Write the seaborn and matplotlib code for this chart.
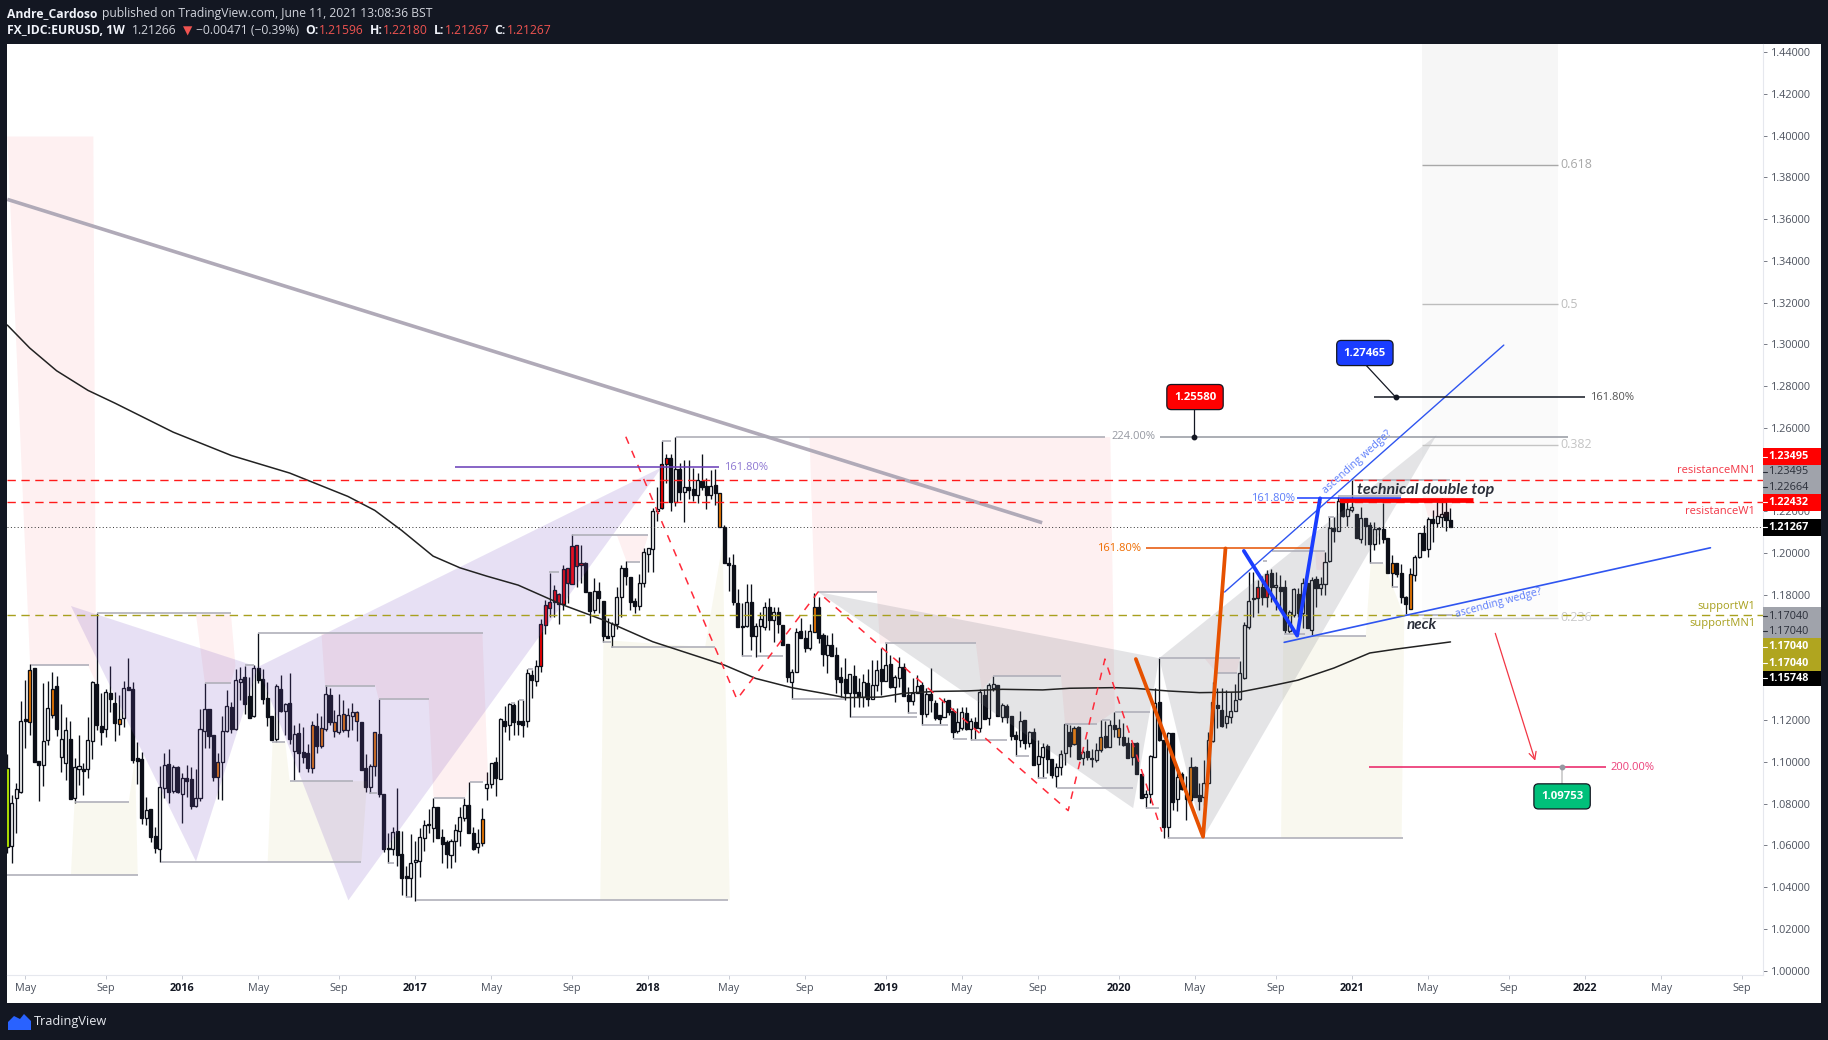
import matplotlib
matplotlib.use("Agg")
import matplotlib.pyplot as plt
import matplotlib.patches as mp
from matplotlib.transforms import blended_transform_factory
import numpy as np
import seaborn as sns

# ---------- candle data (weekly EURUSD) ----------
HIGH = [
1.1038,1.0841,1.0897,1.1292,1.1392,1.1469,1.1448,1.1004,1.1376,1.1386,
1.1432,1.1412,1.1276,1.1214,1.1196,1.1019,1.1129,1.0996,1.1214,1.1389,
1.1713,1.1329,1.1349,1.1459,1.1336,1.1321,1.1386,1.1496,1.1384,1.1094,
1.1049,1.0830,1.0774,1.0687,1.0980,1.1041,1.1062,1.0985,1.0980,1.0945,
1.0984,1.0974,1.0966,1.1252,1.1376,1.1252,1.1129,1.1044,1.1220,1.1344,
1.1289,1.1443,1.1453,1.1459,1.1408,1.1464,1.1616,1.1443,1.1384,1.1220,
1.1373,1.1416,1.1281,1.1424,1.1177,1.1185,1.1166,1.1086,1.1196,1.1233,
1.1220,1.1369,1.1353,1.1249,1.1326,1.1297,1.1257,1.1281,1.1246,1.1191,
1.1038,1.0990,1.1142,1.1300,1.0846,1.0658,1.0690,1.0874,1.0669,1.0502,
1.0655,1.0623,1.0682,1.0722,1.0775,1.0829,1.0784,1.0679,1.0626,1.0629,
1.0703,1.0786,1.0829,1.0906,1.0687,1.0679,1.0778,1.0950,1.0997,1.1025,
1.1209,1.1268,1.1284,1.1284,1.1297,1.1297,1.1445,1.1440,1.1488,1.1685,
1.1776,1.1907,1.1847,1.1808,1.1943,1.1929,1.2090,1.2037,1.2039,1.1959,
1.1812,1.1879,1.1860,1.1769,1.1688,1.1672,1.1839,1.1943,1.1962,1.1887,
1.1784,1.1899,1.2026,1.2023,1.2215,1.2319,1.2537,1.2475,1.2475,1.2555,
1.2430,1.2446,1.2446,1.2406,1.2386,1.2475,1.2358,1.2398,1.2402,1.2287,
1.2135,1.1983,1.1996,1.1827,1.1763,1.1852,1.1852,1.1667,1.1720,1.1768,
1.1784,1.1744,1.1744,1.1656,1.1563,1.1443,1.1640,1.1688,1.1632,1.1659,
1.1808,1.1792,1.1616,1.1608,1.1620,1.1552,1.1457,1.1497,1.1420,1.1465,
1.1401,1.1422,1.1445,1.1489,1.1489,1.1544,1.1568,1.1513,1.1417,1.1505,
1.1473,1.1361,1.1401,1.1417,1.1385,1.1353,1.1449,1.1297,1.1225,1.1305,
1.1297,1.1257,1.1257,1.1262,1.1262,1.1209,1.1217,1.1348,1.1348,1.1377,
1.1412,1.1369,1.1281,1.1278,1.1219,1.1150,1.1246,1.1201,1.1150,1.1161,
1.1105,1.1089,1.1085,1.1014,1.0994,1.1057,1.1180,1.1177,1.1174,1.1174,
1.1057,1.1109,1.1061,1.1089,1.1201,1.1196,1.1201,1.1237,1.1206,1.1185,
1.1118,1.1092,1.1097,1.0940,1.0865,1.1033,1.1352,1.1496,1.1105,1.1145,
1.1140,1.0953,1.0953,1.0933,1.1022,1.0980,1.0897,1.1009,1.1145,1.1381,
1.1352,1.1352,1.1344,1.1336,1.1373,1.1485,1.1670,1.1912,1.1912,1.1872,
1.1891,1.1920,1.1923,1.1912,1.1896,1.1872,1.1728,1.1832,1.1832,1.1880,
1.1856,1.1888,1.1891,1.1888,1.2008,1.2172,1.2172,1.2271,1.2263,1.2263,
1.2351,1.2187,1.2223,1.2167,1.2151,1.2151,1.2124,1.2239,1.2073,1.1992,
1.1952,1.1949,1.1795,1.1928,1.1992,1.2099,1.2136,1.2172,1.2207,1.2258,
1.2263,1.2258,1.2215]
BODY_TOP = [
1.0969,1.0802,1.0869,1.1196,1.1206,1.1440,1.1448,1.1004,1.1102,1.1257,
1.1348,1.1364,1.1111,1.1153,1.1110,1.0977,1.0979,1.0966,1.1105,1.1381,
1.1373,1.1172,1.1336,1.1330,1.1282,1.1204,1.1352,1.1359,1.1349,1.1019,
1.1014,1.0768,1.0774,1.0644,1.0878,1.0984,1.0988,1.0976,1.0976,1.0921,
1.0923,1.0917,1.0826,1.1156,1.1252,1.1252,1.1129,1.1001,1.1148,1.1268,
1.1263,1.1391,1.1396,1.1407,1.1316,1.1450,1.1450,1.1397,1.1305,1.1220,
1.1362,1.1349,1.1276,1.1281,1.1132,1.1137,1.1046,1.1041,1.1175,1.1172,
1.1161,1.1326,1.1321,1.1190,1.1223,1.1228,1.1223,1.1238,1.1238,1.1191,
1.0971,1.0981,1.1142,1.1134,1.0846,1.0588,1.0664,1.0669,1.0559,1.0452,
1.0514,1.0529,1.0639,1.0696,1.0703,1.0784,1.0784,1.0639,1.0615,1.0621,
1.0672,1.0735,1.0792,1.0794,1.0658,1.0610,1.0725,1.0893,1.0993,1.0998,
1.1206,1.1196,1.1276,1.1273,1.1196,1.1196,1.1425,1.1417,1.1460,1.1659,
1.1750,1.1768,1.1822,1.1803,1.1923,1.1929,1.2034,1.2037,1.1951,1.1951,
1.1812,1.1817,1.1817,1.1769,1.1603,1.1659,1.1788,1.1927,1.1927,1.1884,
1.1769,1.1859,1.2004,1.2023,1.2202,1.2213,1.2426,1.2454,1.2454,1.2402,
1.2402,1.2315,1.2315,1.2306,1.2350,1.2346,1.2322,1.2323,1.2328,1.2287,
1.2124,1.1951,1.1943,1.1761,1.1653,1.1764,1.1764,1.1653,1.1683,1.1744,
1.1744,1.1717,1.1720,1.1656,1.1563,1.1432,1.1621,1.1629,1.1592,1.1627,
1.1744,1.1744,1.1608,1.1560,1.1560,1.1513,1.1407,1.1398,1.1420,1.1412,
1.1335,1.1382,1.1378,1.1369,1.1441,1.1445,1.1465,1.1469,1.1406,1.1453,
1.1453,1.1321,1.1332,1.1364,1.1367,1.1324,1.1326,1.1281,1.1225,1.1294,
1.1297,1.1244,1.1193,1.1238,1.1233,1.1198,1.1192,1.1334,1.1321,1.1369,
1.1374,1.1369,1.1271,1.1268,1.1219,1.1129,1.1196,1.1201,1.1144,1.1144,
1.1029,1.1072,1.1077,1.1014,1.0974,1.1038,1.1180,1.1142,1.1161,1.1168,
1.1048,1.1051,1.1019,1.1056,1.1120,1.1124,1.1177,1.1177,1.1161,1.1118,
1.1091,1.1092,1.1091,1.0940,1.0845,1.1027,1.1281,1.1285,1.1105,1.1137,
1.1137,1.0926,1.0940,1.0846,1.0977,1.0977,1.0840,1.0901,1.1105,1.1285,
1.1273,1.1249,1.1220,1.1245,1.1297,1.1424,1.1656,1.1771,1.1784,1.1840,
1.1840,1.1899,1.1904,1.1848,1.1840,1.1840,1.1716,1.1829,1.1805,1.1856,
1.1856,1.1872,1.1875,1.1851,1.1960,1.2123,1.2120,1.2252,1.2252,1.2211,
1.2220,1.2187,1.2167,1.2167,1.2136,1.2115,1.2121,1.2116,1.2073,1.1952,
1.1952,1.1904,1.1791,1.1899,1.1981,1.2097,1.2099,1.2164,1.2163,1.2179,
1.2187,1.2195,1.2159]
BODY_BOTTOM = [
1.0594,1.0599,1.0829,1.0857,1.1196,1.1193,1.1001,1.0985,1.0987,1.1107,
1.1226,1.1159,1.1025,1.0996,1.0824,1.0829,1.0968,1.0958,1.0964,1.1102,
1.1177,1.1145,1.1156,1.1301,1.1188,1.1183,1.1212,1.1344,1.1009,1.1006,
1.0733,1.0733,1.0642,1.0589,1.0584,1.0877,1.0857,1.0862,1.0854,1.0848,
1.0910,1.0790,1.0790,1.0829,1.1150,1.1126,1.0929,1.0929,1.1001,1.1150,
1.1159,1.1159,1.1384,1.1277,1.1212,1.1220,1.1392,1.1301,1.1217,1.1107,
1.1110,1.1245,1.1244,1.1111,1.1054,1.1044,1.1025,1.0973,1.0969,1.1078,
1.1078,1.1159,1.1193,1.1150,1.1145,1.1155,1.1155,1.1222,1.1198,1.0963,
1.0880,1.0878,1.0982,1.0848,1.0585,1.0583,1.0585,1.0556,1.0446,1.0446,
1.0446,1.0519,1.0527,1.0637,1.0696,1.0685,1.0637,1.0609,1.0559,1.0556,
1.0620,1.0671,1.0733,1.0661,1.0583,1.0594,1.0610,1.0877,1.0896,1.0925,
1.0920,1.1172,1.1179,1.1193,1.1182,1.1177,1.1198,1.1393,1.1389,1.1461,
1.1654,1.1736,1.1764,1.1758,1.1755,1.1855,1.1854,1.1940,1.1942,1.1812,
1.1723,1.1728,1.1784,1.1603,1.1594,1.1603,1.1659,1.1788,1.1892,1.1768,
1.1748,1.1748,1.1859,1.1996,1.2022,1.2200,1.2215,1.2426,1.2245,1.2247,
1.2291,1.2291,1.2303,1.2280,1.2280,1.2319,1.2279,1.2277,1.2287,1.2124,
1.1954,1.1942,1.1768,1.1648,1.1645,1.1653,1.1605,1.1603,1.1653,1.1648,
1.1680,1.1680,1.1659,1.1560,1.1408,1.1384,1.1432,1.1595,1.1547,1.1547,
1.1621,1.1592,1.1517,1.1513,1.1509,1.1398,1.1383,1.1331,1.1332,1.1329,
1.1310,1.1311,1.1303,1.1302,1.1370,1.1390,1.1390,1.1361,1.1361,1.1404,
1.1318,1.1292,1.1294,1.1332,1.1230,1.1230,1.1297,1.1211,1.1208,1.1217,
1.1241,1.1145,1.1148,1.1164,1.1156,1.1160,1.1164,1.1164,1.1206,1.1209,
1.1356,1.1222,1.1217,1.1217,1.1126,1.1109,1.1105,1.1089,1.1093,1.0986,
1.0989,1.1022,1.1014,1.0938,1.0934,1.0978,1.1041,1.1078,1.1085,1.1016,
1.1019,1.1022,1.1016,1.1010,1.1057,1.1073,1.1073,1.1159,1.1118,1.1083,
1.1020,1.1022,1.0940,1.0829,1.0830,1.0845,1.1022,1.1105,1.0690,1.0687,
1.0810,1.0821,1.0872,1.0821,1.0818,1.0833,1.0814,1.0833,1.0897,1.1102,
1.1257,1.1172,1.1188,1.1217,1.1242,1.1300,1.1400,1.1648,1.1779,1.1784,
1.1792,1.1792,1.1837,1.1837,1.1821,1.1633,1.1629,1.1704,1.1712,1.1712,
1.1641,1.1633,1.1832,1.1832,1.1854,1.1963,1.2108,1.2108,1.2180,1.2180,
1.2209,1.2072,1.2070,1.2131,1.2045,1.2045,1.2115,1.2070,1.1904,1.1907,
1.1901,1.1792,1.1757,1.1733,1.1896,1.1981,1.2016,1.2019,1.2147,1.2147,
1.2175,1.2159,1.2127]
LOW = [
1.0562,1.0517,1.0658,1.0849,1.1065,1.1129,1.1001,1.0814,1.0886,1.1081,
1.1209,1.1124,1.0953,1.0913,1.0824,1.0805,1.0889,1.0841,1.0925,1.1014,
1.1153,1.1081,1.1121,1.1241,1.1102,1.1129,1.1169,1.1344,1.0993,1.0894,
1.0703,1.0698,1.0615,1.0565,1.0522,1.0826,1.0802,1.0849,1.0849,1.0709,
1.0833,1.0774,1.0786,1.0813,1.1065,1.1065,1.0910,1.0822,1.0818,1.1145,
1.1137,1.1153,1.1297,1.1230,1.1212,1.1217,1.1380,1.1277,1.1172,1.1107,
1.1097,1.1241,1.1129,1.1086,1.0913,1.0953,1.0993,1.0953,1.0949,1.1044,
1.1068,1.1150,1.1177,1.1121,1.1134,1.1145,1.1121,1.1153,1.1102,1.0963,
1.0858,1.0850,1.0934,1.0830,1.0567,1.0514,1.0553,1.0503,1.0363,1.0351,
1.0355,1.0335,1.0450,1.0575,1.0658,1.0618,1.0637,1.0518,1.0490,1.0494,
1.0522,1.0597,1.0717,1.0661,1.0578,1.0565,1.0597,1.0818,1.0874,1.0838,
1.0920,1.1145,1.1105,1.1129,1.1129,1.1118,1.1169,1.1308,1.1365,1.1432,
1.1613,1.1696,1.1696,1.1659,1.1728,1.1760,1.1852,1.1839,1.1859,1.1812,
1.1667,1.1715,1.1712,1.1576,1.1592,1.1552,1.1635,1.1696,1.1847,1.1728,
1.1715,1.1728,1.1839,1.1911,1.1911,1.2156,1.2212,1.2335,1.2204,1.2226,
1.2255,1.2151,1.2258,1.2251,1.2239,1.2303,1.2212,1.2259,1.2231,1.2124,
1.1951,1.1820,1.1752,1.1645,1.1507,1.1648,1.1536,1.1504,1.1528,1.1632,
1.1632,1.1576,1.1616,1.1560,1.1384,1.1300,1.1432,1.1592,1.1528,1.1536,
1.1621,1.1568,1.1461,1.1428,1.1509,1.1329,1.1313,1.1297,1.1214,1.1265,
1.1265,1.1265,1.1268,1.1302,1.1342,1.1321,1.1390,1.1353,1.1289,1.1361,
1.1318,1.1233,1.1273,1.1329,1.1177,1.1214,1.1241,1.1201,1.1182,1.1217,
1.1225,1.1113,1.1137,1.1153,1.1153,1.1105,1.1109,1.1145,1.1206,1.1177,
1.1342,1.1222,1.1193,1.1188,1.1105,1.1029,1.1073,1.1061,1.1073,1.0986,
1.0925,1.0925,1.0946,1.0922,1.0879,1.0938,1.0986,1.1025,1.1081,1.1016,
1.0986,1.1010,1.0978,1.1002,1.1049,1.1068,1.1070,1.1121,1.1081,1.1076,
1.1017,1.0985,1.0940,1.0829,1.0778,1.0802,1.1022,1.1102,1.0634,1.0634,
1.0770,1.0766,1.0865,1.0722,1.0802,1.0833,1.0770,1.0794,1.0897,1.1097,
1.1161,1.1166,1.1161,1.1185,1.1242,1.1297,1.1395,1.1636,1.1696,1.1712,
1.1752,1.1744,1.1768,1.1728,1.1744,1.1617,1.1617,1.1696,1.1696,1.1641,
1.1641,1.1601,1.1744,1.1800,1.1800,1.1960,1.2056,1.2108,1.2175,1.2128,
1.2199,1.2072,1.2051,1.2040,1.1952,1.2016,1.2045,1.2048,1.1904,1.1837,
1.1888,1.1760,1.1709,1.1732,1.1867,1.1976,1.2016,1.1984,1.2056,1.2124,
1.2124,1.2104,1.2127]
BODY_KIND = ("gwwwkokkww" "okwwkwwkww" "kkwkkowkkk" "kwkkwwkwkw" "kkwwwkkoww"
             "kwwkkwkkkk" "wkwkwkkkok" "owkowowwok" "kwokkkwkkk" "wwwwkwkkkw"
             "wwwkkwowwk" "wkwkkkwkwr" "rrrrrrrrrk" "kwkkkwwwkk" "kwwwwwrrkw"
             "kwkkwkkwko" "kkkkkwkwww" "kwkkkwwkkw" "okkwkkkkwk" "kwkwwkwkww"
             "kkwwkwkkkw" "kkwwkwkwkw" "wkwkkkwkwk" "wwkkwwwkok" "wkkwokwkok"
             "kokkwwwkkw" "kwkkokkwww" "kkwwwwwwkr" "krkwkkwwkw" "kwkwwwkwkw"
             "wkwkkwkkko" "kkkowwkwkw" "wkk")

MA_WEEK = [0,5,11,18,24,37,50,63,76,82,88,95,101,107,114,124,133,144,160,167,175,182,187,195,200,207,
           214,222,231,237,247,252,259,266,275,281,288,296,304,310,322]
MA_VALUE = [1.3093,1.2983,1.2874,1.2780,1.2719,1.2580,1.2468,1.2384,1.2272,1.2205,1.2109,1.1986,1.1930,
            1.1890,1.1847,1.1752,1.1680,1.1576,1.1464,1.1400,1.1356,1.1329,1.1308,1.1311,1.1329,1.1338,
            1.1340,1.1348,1.1345,1.1353,1.1356,1.1352,1.1340,1.1332,1.1335,1.1360,1.1392,1.1450,1.1522,
            1.1541,1.1575]

TICK_WEEK = [4,22,39,56,74,91,108,126,143,161,178,196,213,230,248,265,283,300,317,335,352,369,387]
TICK_LABEL = ["May","Sep","2016","May","Sep","2017","May","Sep","2018","May","Sep","2019","May",
              "Sep","2020","May","Sep","2021","May","Sep","2022","May","Sep"]
PRICE_TICKS = [1.00,1.02,1.04,1.06,1.08,1.10,1.12,1.18,1.20,1.22,1.26,1.28,1.30,
               1.32,1.34,1.36,1.38,1.40,1.42,1.44]

# ---------- drawings, in (week, price) ----------
PINK_ZONES = [
 [(0,1.3996),(19.2,1.3996),(19.8,1.1380),(18,1.1464),(5.1,1.1464)],
 [(42.1,1.1707),(49.9,1.1707),(50.9,1.1461),(49.9,1.1377),(44.1,1.1377)],
 [(70.1,1.1616),(106.0,1.1616),(107.3,1.0908),(103.2,1.0908),(102.2,1.0830),(95.1,1.0830),
  (94.0,1.1299),(82.9,1.1299),(82.1,1.1366),(70.9,1.1366)],
 [(179,1.2556),(246.1,1.2556),(247.1,1.1243),(243,1.1182),(236,1.1182),(235.1,1.1411),(220,1.1411),
  (217.4,1.1344),(216.1,1.1567),(194.7,1.1567),(194,1.1815),(180.1,1.1815)],
 [(136,1.2087),(143,1.2087),(141.2,1.1959),(138.2,1.1959)],
 [(267.1,1.1497),(275,1.1497),(274.3,1.1426),(269.8,1.1426)],
 [(291.8,1.2010),(294,1.2010),(293.8,1.1920),(292.1,1.1920)],
 [(315.8,1.2271),(323,1.2271),(321.5,1.2175),(317,1.2175)],
]
YELLOW_ZONES = [
 [(15,1.0809),(27.1,1.0809),(28.5,1.1020),(29.1,1.0459),(14.2,1.0459)],
 [(59.2,1.1098),(62,1.1098),(63,1.0908),(80.3,1.0908),(79,1.0523),(58.1,1.0523)],
 [(132.3,1.0338),(133,1.1584),(155.7,1.1550),(159.6,1.2048),(161.2,1.0338)],
 [(284.7,1.1600),(303.1,1.1603),(304.2,1.1952),(307.1,1.1952),(311.7,1.1696),(311.1,1.0635),(284.2,1.0635)],
]
PURPLE_WINGS = [
 [(14.2,1.1747),(42.1,1.0523),(55.9,1.1455)],
 [(55.9,1.1455),(76.1,1.0337),(146,1.2411)],
]
GREY_WINGS = [
 [(180.9,1.1814),(257,1.1497),(251.2,1.0779)],
 [(257,1.1497),(318.9,1.2566),(266.8,1.0637)],
]
FIB_LEFT, FIB_RIGHT = 315.7, 345.9
FIB_LEVELS = [1.1690,1.2520,1.3192,1.3862,1.4439]
FIB_NAMES = ["0.236","0.382","0.5","0.618"]

BRACKETS = [
 (20.1,50.0,1.1712),(5.2,18.2,1.1464),(44,50,1.1378),(53,55,1.1464),(55.9,106.1,1.1616),
 (15,27.2,1.0810),(0,29.2,1.0458),(34.2,79,1.0522),(59.1,62,1.1097),(63,77.1,1.0910),
 (70.9,82,1.1364),(82.9,94,1.1300),(80.7,82.5,1.0851),(85,86.3,1.0517),(88.9,90.1,1.0354),
 (91.1,160.9,1.0339),(95.1,102.1,1.0829),(103.2,106.1,1.0905),(112.4,113.3,1.1284),
 (114.1,115.2,1.1297),(116.2,117.3,1.1445),(120.9,123.1,1.1910),(126,143,1.2087),
 (138.3,141.2,1.1959),(146,148,1.2537),(132.9,134.8,1.1574),(134.8,157.9,1.1552),
 (163.9,166.1,1.1509),(167.2,173.1,1.1508),(175,186.9,1.1300),(180.9,194,1.1814),
 (195.8,216.1,1.1568),(188.2,203,1.1217),(201,203,1.1234),(204,209.9,1.1176),(211,214.1,1.1111),
 (215,223,1.1105),(219.9,235.1,1.1412),(225.1,228,1.1028),(230,232,1.0922),(234.1,251.2,1.0877),
 (236,243.1,1.1182),(244.2,246,1.1201),(247.1,255,1.1239),(257,275,1.1497),(254,257,1.0779),
 (259,311.4,1.0637),(269.8,274.3,1.1426),(282.1,294,1.2010),(280.1,281.1,1.1964),
 (284.8,289.5,1.1613),(291,303.1,1.1603),(294.7,296,1.2173),(304,306.9,1.1954),
 (308.9,310.3,1.1837),(312,322.6,1.1704),(300,321.9,1.2350),(297,311,1.2272),
]
TREND_WEEK, TREND_PRICE = [0,230.9], [1.3695,1.2146]
ZIGZAG_WEEK = [138,162.8,180.9,236.7,244.9,257.6]
ZIGZAG_PRICE = [1.2558,1.1300,1.1814,1.0767,1.1493,1.0666]
ORANGE_WEEK, ORANGE_PRICE = [251.8,266.8,271.8],[1.1493,1.0642,1.2023]
BLUE_WEEK, BLUE_PRICE = [275.9,287.8,292.9],[1.2011,1.1605,1.2263]
WEDGE_UP_WEEK, WEDGE_UP_PRICE = [271.6,333.9],[1.1814,1.2997]
WEDGE_LOW_WEEK, WEDGE_LOW_PRICE = [284.9,380.0],[1.1573,1.2026]
RES_MN1, RES_W1, SUPPORT, LAST = 1.23495, 1.22432, 1.1704, 1.21267

W, H = 1828, 1040
BG = "#131722"
sns.set_theme(style="white", rc={"font.family": "Open Sans"})
fig = plt.figure(figsize=(W/100, H/100), dpi=100, facecolor=BG)
# white chart panel
fig.add_artist(mp.Rectangle((7/W, 1-1003/H), 1814/W, 959/H, transform=fig.transFigure,
                            facecolor="white", edgecolor="none", zorder=-5))
ax = fig.add_axes([7/W, 1-975/H, 1756/W, 931/H], facecolor="none")
ax.set_xlim(-0.067, 391.73)
ax.set_ylim(0.99794, 1.44393)

weeks = np.arange(len(HIGH))
FILL = {"k": "#0c0f18", "w": "#ffffff", "o": "#f57c00", "r": "#ff0000", "g": "#c6ff00"}
ax.vlines(weeks, LOW, HIGH, color="#0c0f18", lw=0.95, zorder=2)
ax.bar(weeks, np.array(BODY_TOP)-np.array(BODY_BOTTOM), bottom=BODY_BOTTOM, width=0.68,
       color=[FILL[k] for k in BODY_KIND], edgecolor="#0c0f18", linewidth=0.95, zorder=3)

# shaded drawings lie over the candles
for z in PINK_ZONES:
    ax.add_patch(mp.Polygon(z, closed=True, facecolor="#f23645", alpha=0.075, edgecolor="none", zorder=4))
for z in YELLOW_ZONES:
    ax.add_patch(mp.Polygon(z, closed=True, facecolor="#b0a520", alpha=0.07, edgecolor="none", zorder=4))
for z in PURPLE_WINGS:
    ax.add_patch(mp.Polygon(z, closed=True, facecolor="#7e57c2", alpha=0.18, edgecolor="none", zorder=4))
for z in GREY_WINGS:
    ax.add_patch(mp.Polygon(z, closed=True, facecolor="#787b86", alpha=0.20, edgecolor="none", zorder=4))
for lo, hi, a in zip(FIB_LEVELS[:-1], FIB_LEVELS[1:], [0.012, 0.018, 0.025, 0.035]):
    ax.add_patch(mp.Rectangle((FIB_LEFT, lo), FIB_RIGHT-FIB_LEFT, hi-lo, facecolor="black", alpha=a,
                              edgecolor="none", zorder=1))
for lv, nm, col in zip(FIB_LEVELS, FIB_NAMES, ["#cbcbcb", "#c4c4c4", "#bdbdbd", "#a8a8a8"]):
    ax.hlines(lv, FIB_LEFT, FIB_RIGHT, color=col, lw=1.0, zorder=5)
    ax.text(FIB_RIGHT+0.6, lv, nm, color=col, fontsize=9, va="center", ha="left", zorder=6)

for x1, x2, p in BRACKETS:
    ax.hlines(p, x1, x2, color="#b0b0ba", lw=1.2, zorder=5)

sns.lineplot(x=MA_WEEK, y=MA_VALUE, ax=ax, color="#222222", lw=1.1, estimator=None, zorder=5, legend=False)
ax.plot(TREND_WEEK, TREND_PRICE, color="#b0aab8", lw=2.6, solid_capstyle="butt", zorder=5)
ax.plot(ZIGZAG_WEEK, ZIGZAG_PRICE, color="#ff2a3a", lw=1.1, ls=(0, (5, 5)), zorder=6)
ax.plot(ORANGE_WEEK, ORANGE_PRICE, color="#e65100", lw=2.7, zorder=7)
ax.plot(BLUE_WEEK, BLUE_PRICE, color="#1a3dff", lw=2.7, zorder=7)
ax.plot(WEDGE_UP_WEEK, WEDGE_UP_PRICE, color="#2f55f0", lw=1.0, zorder=6)
ax.plot(WEDGE_LOW_WEEK, WEDGE_LOW_PRICE, color="#2f55f0", lw=1.2, zorder=6)

# full-width levels
ax.axhline(RES_MN1, color="#ff1a1a", lw=1.0, ls=(0, (6, 4)), zorder=6)
ax.axhline(RES_W1, color="#ff1a1a", lw=1.0, ls=(0, (6, 4)), zorder=6)
ax.axhline(SUPPORT, color="#a8a01e", lw=1.0, ls=(0, (6, 4)), zorder=6)
ax.axhline(LAST, color="#333333", lw=0.7, ls=(0, (1, 2.5)), zorder=6)

# horizontal level drawings
ax.hlines(1.2255, 297.1, 327, color="#ff0000", lw=3.4, zorder=6)
ax.hlines(1.2023, 254.1, 290.9, color="#e65100", lw=1.1, zorder=6)
ax.hlines(1.2263, 287.7, 310.9, color="#1a3dff", lw=1.1, zorder=6)
ax.hlines(1.2411, 99.8, 158.8, color="#673ab7", lw=1.1, zorder=6)
ax.hlines(1.2747, 304.9, 352.0, color="#131722", lw=1.1, zorder=6)
ax.hlines(1.0975, 303.8, 356.7, color="#e91e63", lw=1.1, zorder=6)
ax.hlines(1.2558, 149.1, 245, color="#a8a8b2", lw=1.1, zorder=5)
ax.hlines(1.2558, 257.2, 348.2, color="#9598a1", lw=1.1, zorder=5)

PCT = dict(fontsize=8, va="center", zorder=8)
ax.text(252.9, 1.2023, "161.80%", color="#ef6c00", ha="right", **PCT)
ax.text(287.3, 1.2263, "161.80%", color="#5b7cfa", ha="right", **PCT)
ax.text(159.9, 1.2411, "161.80%", color="#8e78d2", ha="left", **PCT)
ax.text(353.1, 1.2747, "161.80%", color="#555555", ha="left", **PCT)
ax.text(357.8, 1.0975, "200.00%", color="#ec407a", ha="left", **PCT)
ax.text(246.3, 1.2558, "224.00%", color="#9598a1", ha="left", **PCT)

ax.text(301.2, 1.2438, "ascending wedge?", color="#5b7cfa", fontsize=7.6, rotation=42,
        ha="center", va="center", rotation_mode="anchor", zorder=8)
ax.text(332.8, 1.1761, "ascending wedge?", color="#5b7cfa", fontsize=7.6, rotation=15,
        ha="center", va="center", rotation_mode="anchor", zorder=8)
ax.text(316.5, 1.2304, "technical double top", family="Lato", weight="bold", style="italic",
        color="#2a2e39", fontsize=11.5, ha="center", va="center", zorder=8)
ax.text(315.6, 1.1656, "neck", family="Lato", weight="bold", style="italic",
        color="#2a2e39", fontsize=11, ha="center", va="center", zorder=8)

ax.text(390.0, 1.2394, "resistanceMN1", color="#f23645", fontsize=8, ha="right", va="center", zorder=8)
ax.text(390.0, 1.2201, "resistanceW1", color="#f23645", fontsize=8, ha="right", va="center", zorder=8)
ax.text(390.0, 1.1747, "supportW1", color="#a8a01e", fontsize=8, ha="right", va="center", zorder=8)
ax.text(390.0, 1.1661, "supportMN1", color="#a8a01e", fontsize=8, ha="right", va="center", zorder=8)

# callouts
ax.plot([264.8, 264.8], [1.2691, 1.2558], color="#131722", lw=0.9, zorder=7)
ax.plot([303.1, 309.8], [1.2902, 1.2747], color="#131722", lw=0.9, zorder=7)
ax.plot([346.9, 346.9], [1.0977, 1.0894], color="#c8c8c8", lw=1.2, zorder=7)
ax.plot([264.8, 309.8], [1.2558, 1.2747], ls="none", marker="o", ms=3.2, color="#131722", zorder=8)
ax.plot([346.9], [1.0977], ls="none", marker="o", ms=3.2, color="#9598a1", zorder=8)
for wk, pr, txt, col in [(265, 1.2748, "1.25580", "#ff0000"), (302.9, 1.2959, "1.27465", "#1a3dff"),
                         (346.9, 1.0835, "1.09753", "#00c07a")]:
    ax.text(wk, pr, txt, color="white", weight="bold", fontsize=8.2, ha="center", va="center", zorder=9,
            bbox=dict(boxstyle="round,pad=0.62,rounding_size=0.4", facecolor=col, edgecolor="#131722", linewidth=0.9))
ax.annotate("", xy=(340.9, 1.1006), xytext=(332.0, 1.1616), zorder=7,
            arrowprops=dict(arrowstyle="->", color="#f23645", lw=0.9, mutation_scale=13, shrinkA=0, shrinkB=0))

# axes
for s in ("top", "left"):
    ax.spines[s].set_visible(False)
for s in ("right", "bottom"):
    ax.spines[s].set_color("#e6e8ee")
    ax.spines[s].set_linewidth(0.8)
ax.yaxis.tick_right()
ax.set_yticks(PRICE_TICKS, [f"{p:.5f}" for p in PRICE_TICKS])
ax.tick_params(axis="y", direction="out", length=3, width=0.7, color="#787b86", labelcolor="#4c525e",
               labelsize=7.8, pad=3, right=True, left=False)
ax.set_xticks(TICK_WEEK, TICK_LABEL)
ax.tick_params(axis="x", direction="out", length=3, width=0.7, color="#c8cbd3", labelcolor="#4c525e",
               labelsize=7.8, pad=3, bottom=True)
for lab in ax.get_xticklabels():
    if lab.get_text().isdigit():
        lab.set_color("#131722")
        lab.set_fontweight("bold")

# price tags on the scale
tr = blended_transform_factory(ax.transAxes, ax.transData)
TAG_X, TAG_W = 1.0, 58/1756
def tag(lo, hi, col, zorder=10):
    ax.add_patch(mp.Rectangle((TAG_X, lo), TAG_W, hi-lo, transform=tr, facecolor=col, edgecolor="none",
                              clip_on=False, zorder=zorder))
def tag_text(p, txt, col, bold=True):
    ax.text(TAG_X+5.5/1756, p, txt, transform=tr, color=col, fontsize=7.8,
            weight="bold" if bold else "normal", va="center", ha="left", clip_on=False, zorder=11)
    ax.plot([TAG_X, TAG_X+3.5/1756], [p, p], transform=tr, color=col, lw=0.8, clip_on=False, zorder=11)

tag(1.2284, 1.2423, "#a0a3ab")
tag_text(1.2389, "1.23495", "#2a2e39", False)
tag_text(1.2317, "1.22664", "#2a2e39", False)
tag(1.2423, 1.2504, "#ff0000"); tag_text(1.2463, "1.23495", "white")
tag(1.2203, 1.2284, "#ff0000"); tag_text(1.2243, "1.22432", "white")
tag(1.2084, 1.2164, "#000000"); tag_text(1.2124, "1.21267", "white")
tag(1.1594, 1.1742, "#a0a3ab")
tag_text(1.1699, "1.17040", "#2a2e39", False)
tag_text(1.1627, "1.17040", "#2a2e39", False)
tag(1.1436, 1.1594, "#b0a51f")
tag_text(1.1551, "1.17040", "white")
tag_text(1.1474, "1.17040", "white")
tag(1.1364, 1.1436, "#000000"); tag_text(1.1400, "1.15748", "white")

# header
def hdr(x, y, s, col="#d1d4dc", bold=False, family=None):
    fig.text(x/W, 1-y/H, s, color=col, fontsize=8.7, weight="bold" if bold else "normal",
             va="center", ha="left", family=family)
hdr(6.7, 14, "Andre_Cardoso", "#f0f3fa", True)
hdr(101.6, 14, "published on TradingView.com, June 11, 2021 13:08:36 BST")
hdr(6.7, 31, "FX_IDC:EURUSD, 1W", "#f0f3fa", True)
hdr(132, 31, "1.21266")
hdr(183, 31, "▼", "#ef5350", family="DejaVu Sans")
hdr(196, 31, "−0.00471 (−0.39%)")
for x1, a, x2, b in [(305.5, "O:", 319, "1.21596"), (369.6, "H:", 383, "1.22180"),
                     (433.6, "L:", 444.7, "1.21267"), (494, "C:", 506.7, "1.21267")]:
    hdr(x1, 31, a, "#f0f3fa", True)
    hdr(x2, 31, b, "#ef5350")

# footer logo
fig.add_artist(mp.Polygon([(8/W, 1-1030/H), (8/W, 1-1022/H), (14/W, 1-1016/H), (20/W, 1-1019/H),
                           (24/W, 1-1014/H), (31/W, 1-1021/H), (31/W, 1-1030/H)],
                          closed=True, transform=fig.transFigure, facecolor="#2962ff", edgecolor="none"))
fig.text(34/W, 1-1022/H, "TradingView", color="#e6e8ee", fontsize=9.2, va="center", ha="left")

fig.savefig("out.png", dpi=100, facecolor=BG)
